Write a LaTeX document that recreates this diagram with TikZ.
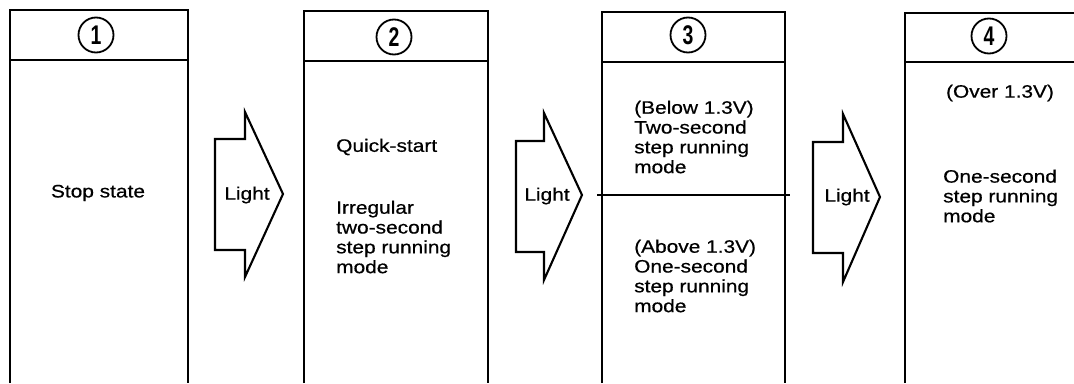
\documentclass[tikz,border=0pt]{standalone}
\usepackage{fontspec}
\setmainfont[FakeStretch=1.16, FakeBold=0.6]{Liberation Sans}
\newfontfamily\numfont[FakeStretch=0.72]{Liberation Sans Bold}
\begin{document}
\begin{tikzpicture}[x=1pt,y=-1pt,
  frame/.style={line width=2.3pt, line join=miter},
  lightarrow/.style={line width=2.1pt, line join=miter},
  num/.style={circle, draw, line width=1.8pt, minimum size=35pt, inner sep=0pt, font=\numfont\fontsize{27}{27}\selectfont},
  txt/.style={inner sep=0pt, align=left, font=\fontsize{18}{19.8}\selectfont},
  lbl/.style={inner sep=0pt, font=\fontsize{18}{19.8}\selectfont}]
\useasboundingbox (0,0) rectangle (1074,383);
% box 1
\draw[frame] (10,383) -- (10,10) -- (188,10) -- (188,383);
\draw[frame] (10,60) -- (188,60);
\node[num] (n1) at (96,35) {1};
\node[lbl] (t1) at (98,193) {Stop state};
% arrow 1
\draw[lightarrow] (215,139) -- (245,139) -- (245,112) -- (283,194) -- (245,277) -- (245,250) -- (215,250) -- cycle;
\node[lbl] (l1) at (247,195) {Light};
% box 2
\draw[frame] (304,383) -- (304,11) -- (488,11) -- (488,383);
\draw[frame] (304,61) -- (488,61);
\node[num] (n2) at (394,37) {2};
\node[txt, anchor=west] (t2a) at (336,147) {Quick-start};
\node[txt, anchor=west] (t2b) at (336,237) {Irregular\\two-second\\step running\\mode};
% arrow 2
\draw[lightarrow] (516,141) -- (544,141) -- (544,113) -- (582,195) -- (544,280) -- (544,252) -- (516,252) -- cycle;
\node[lbl] (l2) at (547,196) {Light};
% box 3
\draw[frame] (602,383) -- (602,12) -- (785,12) -- (785,383);
\draw[frame] (602,62) -- (785,62);
\draw[frame] (597,195) -- (790,195);
\node[num] (n3) at (688,35) {3};
\node[txt, anchor=west] (t3a) at (634,137) {(Below 1.3V)\\Two-second\\step running\\mode};
\node[txt, anchor=west] (t3b) at (634,276) {(Above 1.3V)\\One-second\\step running\\mode};
% arrow 3
\draw[lightarrow] (813,142) -- (843,142) -- (843,114) -- (880,197) -- (843,282) -- (843,253) -- (813,253) -- cycle;
\node[lbl] (l3) at (847,197) {Light};
% box 4
\draw[frame] (905,383) -- (905,13) -- (1074,13);
\draw[frame] (905,62) -- (1074,62);
\node[num] (n4) at (989,36) {4};
\node[lbl] (t4a) at (1000,93) {(Over 1.3V)};
\node[txt, anchor=west] (t4b) at (943,196) {One-second\\step running\\mode};
\end{tikzpicture}
\end{document}
